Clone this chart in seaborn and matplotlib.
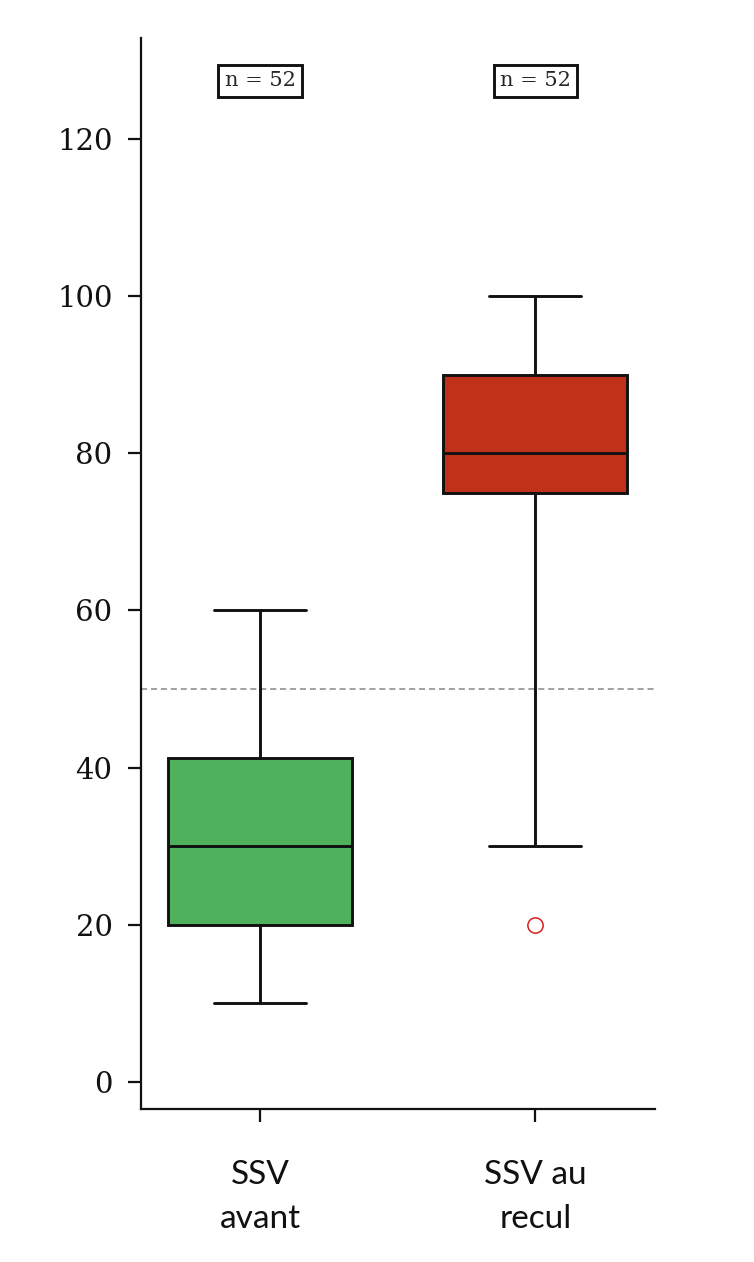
import numpy as np
import pandas as pd
import matplotlib
matplotlib.use("Agg")
import matplotlib.pyplot as plt
import seaborn as sns

# values observed on each group (value -> number of patients), n = 52 each
groups = ["SSV\navant", "SSV au\nrecul"]
avant_values = [10, 15, 20, 25, 30, 35, 40, 45, 50, 60]
avant_counts = [5, 3, 10, 4, 12, 3, 2, 3, 6, 4]
recul_values = [20, 30, 40, 50, 60, 70, 75, 80, 85, 90, 95, 100]
recul_counts = [1, 3, 1, 1, 2, 3, 4, 13, 6, 8, 5, 5]
box_colors = ["#4FB15C", "#C0311A"]
ref_line = 50
y_ticks = [0, 20, 40, 60, 80, 100, 120]

df = pd.concat([
    pd.DataFrame({"group": groups[0], "score": np.repeat(avant_values, avant_counts)}),
    pd.DataFrame({"group": groups[1], "score": np.repeat(recul_values, recul_counts)}),
])

sns.set_style("ticks")

fig = plt.figure(figsize=(7.54, 12.62), dpi=100)
ax = fig.add_axes([0.187, 0.1212, 0.682, 0.849])

sns.boxplot(data=df, x="group", y="score", hue="group", palette=box_colors,
            width=0.67, whis=(5, 95), linecolor="#111111", linewidth=2.1,
            saturation=1, legend=False, ax=ax,
            flierprops=dict(marker="o", markersize=11, markerfacecolor="none",
                            markeredgecolor="#D42020", markeredgewidth=1.1))

ax.axhline(ref_line, color="#888888", linestyle=(0, (4, 2.5)), linewidth=1.1, zorder=0)

# n labels on top
for i, g in enumerate(groups):
    n = (df["group"] == g).sum()
    ax.text(i, 127.4, f"n = {n}", ha="center", va="center", fontsize=15,
            family="DejaVu Serif",
            bbox=dict(boxstyle="square,pad=0.3", facecolor="white",
                      edgecolor="#111111", linewidth=2.1))

ax.set_xlim(-0.433, 1.436)
ax.set_ylim(-3.45, 132.9)
ax.set_yticks(y_ticks)
ax.set_yticklabels([str(t) for t in y_ticks], family="DejaVu Serif", fontsize=21)
ax.set_xticks([0, 1])
ax.set_xticklabels(groups, family="Lato", fontsize=24,
                   linespacing=1.6, color="#111111")
ax.tick_params(axis="y", length=9.5, width=1.6, pad=11, colors="#111111")
ax.tick_params(axis="x", length=9.5, width=1.6, pad=27, colors="#111111")
ax.set_xlabel("")
ax.set_ylabel("")
for s in ["left", "bottom"]:
    ax.spines[s].set_linewidth(1.6)
    ax.spines[s].set_color("#111111")
sns.despine(ax=ax)

fig.savefig("out.png", dpi=100)
